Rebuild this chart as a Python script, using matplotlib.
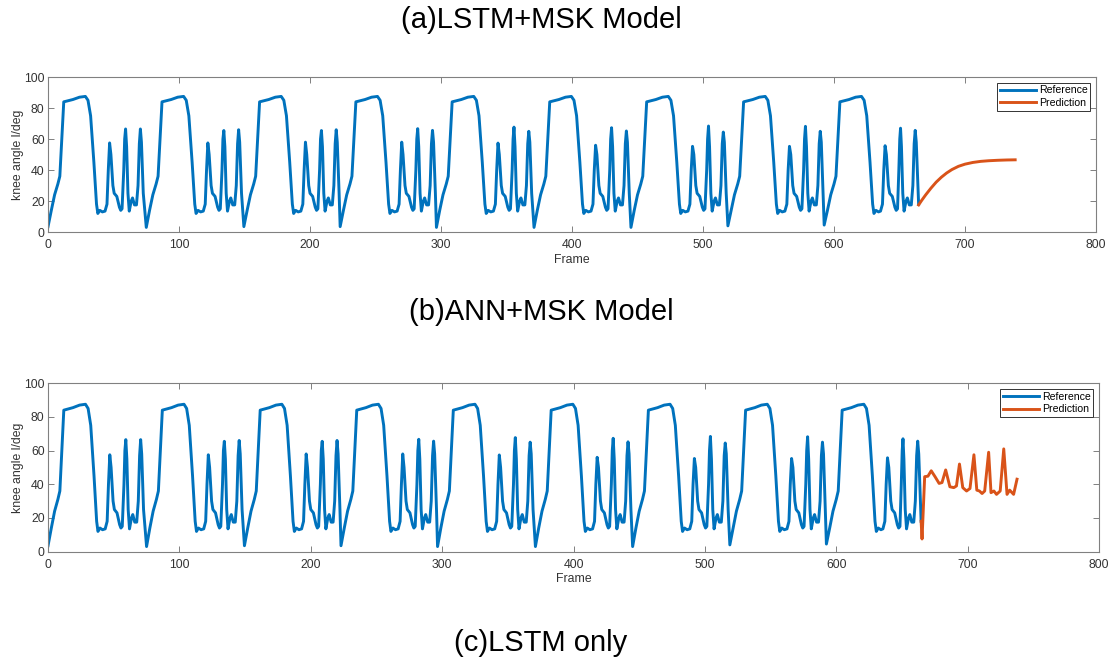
import matplotlib
matplotlib.use("Agg")
import matplotlib.pyplot as plt

plt.rcParams['font.family'] = ['Liberation Sans', 'DejaVu Sans']

# Reference knee angle (same recording in both panels), read cycle by cycle
ref_frames = [
    0, 2.5, 5, 7.5, 9, 10.5, 12, 19, 24, 28.5, 30.5, 32.5, 35, 37, 38, 39.5, 41.5, 43.5, 45, 46, 47, 48, 49.5, 50.5, 52.5, 54.5, 55.5, 56.5, 57.8, 58.5, 59.2, 60, 61, 62, 63.5, 64.5, 66, 67.5, 68.7, 69.7, 70.5, 71.3, 72.7,
    75, 77.5, 80, 82.5, 84, 85.5, 87, 94, 99, 103.5, 105.5, 107.5, 110, 112, 113, 114.5, 116.5, 118.5, 120, 121, 122, 123, 124.5, 125.5, 127.5, 129.5, 130.5, 131.5, 132.8, 133.5, 134.2, 135, 136, 137, 138.5, 139.5, 141, 142.5, 143.7, 144.7, 145.5, 146.3, 147.7,
    149.5, 152, 154.5, 157, 158.5, 160, 161.5, 168.5, 173.5, 178, 180, 182, 184.5, 186.5, 187.5, 189, 191, 193, 194.5, 195.5, 196.5, 197.5, 199, 200, 202, 204, 205, 206, 207.3, 208, 208.7, 209.5, 210.5, 211.5, 213, 214, 215.5, 217, 218.2, 219.2, 220, 220.8, 222.2,
    223, 225.5, 228, 230.5, 232, 233.5, 235, 242, 247, 251.5, 253.5, 255.5, 258, 260, 261, 262.5, 264.5, 266.5, 268, 269, 270, 271, 272.5, 273.5, 275.5, 277.5, 278.5, 279.5, 280.8, 281.5, 282.2, 283, 284, 285, 286.5, 287.5, 289, 290.5, 291.7, 292.7, 293.5, 294.3, 295.7,
    296.5, 299, 301.5, 304, 305.5, 307, 308.5, 315.5, 320.5, 325, 327, 329, 331.5, 333.5, 334.5, 336, 338, 340, 341.5, 342.5, 343.5, 344.5, 346, 347, 349, 351, 352, 353, 354.3, 355, 355.7, 356.5, 357.5, 358.5, 360, 361, 362.5, 364, 365.2, 366.2, 367, 367.8, 369.2,
    371, 373.5, 376, 378.5, 380, 381.5, 383, 390, 395, 399.5, 401.5, 403.5, 406, 408, 409, 410.5, 412.5, 414.5, 416, 417, 418, 419, 420.5, 421.5, 423.5, 425.5, 426.5, 427.5, 428.8, 429.5, 430.2, 431, 432, 433, 434.5, 435.5, 437, 438.5, 439.7, 440.7, 441.5, 442.3, 443.7,
    445, 447.5, 450, 452.5, 454, 455.5, 457, 464, 469, 473.5, 475.5, 477.5, 480, 482, 483, 484.5, 486.5, 488.5, 490, 491, 492, 493, 494.5, 495.5, 497.5, 499.5, 500.5, 501.5, 502.8, 503.5, 504.2, 505, 506, 507, 508.5, 509.5, 511, 512.5, 513.7, 514.7, 515.5, 516.3, 517.7,
    519, 521.5, 524, 526.5, 528, 529.5, 531, 538, 543, 547.5, 549.5, 551.5, 554, 556, 557, 558.5, 560.5, 562.5, 564, 565, 566, 567, 568.5, 569.5, 571.5, 573.5, 574.5, 575.5, 576.8, 577.5, 578.2, 579, 580, 581, 582.5, 583.5, 585, 586.5, 587.7, 588.7, 589.5, 590.3, 591.7,
    592.5, 595, 597.5, 600, 601.5, 603, 604.5, 611.5, 616.5, 621, 623, 625, 627.5, 629.5, 630.5, 632, 634, 635.5, 637, 638, 639, 640, 641.5, 642.5, 644.5, 646.5, 647.5, 648.5, 649.5, 650.2, 650.8, 651.5, 652.5, 653.5, 655, 656, 657.5, 659, 660.2, 661.2, 662, 662.8, 664.6,
]
ref_angle = [
    3.5, 14, 24, 31, 36, 60, 84, 85.5, 87, 87.5, 85, 75, 45, 18, 12, 14, 13, 13.5, 18, 40, 57.5, 50, 30, 25, 23, 16, 14, 15, 40, 60, 66.5, 55, 25, 13.5, 20, 22, 17.5, 17.5, 30, 57, 66.5, 58, 25,
    3, 14, 24, 31, 36, 60, 84, 85.5, 87, 87.5, 85, 75, 45, 18, 12, 14, 13, 13.5, 18, 40, 57.5, 50, 30, 25, 23, 16, 14, 15, 40, 60, 65.5, 55, 25, 13.5, 20, 22, 17.5, 17.5, 30, 57, 66, 58, 25,
    3.5, 14, 24, 31, 36, 60, 84, 85.5, 87, 87.5, 85, 75, 45, 18, 12, 14, 13, 13.5, 18, 40, 58, 50, 30, 25, 23, 16, 14, 15, 40, 60, 65.5, 55, 25, 13.5, 20, 22, 17.5, 17.5, 30, 57, 66, 58, 25,
    3.5, 14, 24, 31, 36, 60, 84, 85.5, 87, 87.5, 85, 75, 45, 18, 12, 14, 13, 13.5, 18, 40, 58, 50, 30, 25, 23, 16, 14, 15, 40, 60, 66.7, 55, 25, 13.5, 20, 22, 17.5, 17.5, 30, 57, 65.6, 58, 25,
    3, 14, 24, 31, 36, 60, 84, 85.5, 87, 87.5, 85, 75, 45, 18, 12, 14, 13, 13.5, 18, 40, 57.4, 50, 30, 25, 23, 16, 14, 15, 40, 60, 67.7, 55, 25, 13.5, 20, 22, 17.5, 17.5, 30, 57, 65, 58, 25,
    3, 14, 24, 31, 36, 60, 84, 85.5, 87, 87.5, 85, 75, 45, 18, 12, 14, 13, 13.5, 18, 40, 56, 50, 30, 25, 23, 16, 14, 15, 40, 60, 67.3, 55, 25, 13.5, 20, 22, 17.5, 17.5, 30, 57, 65.2, 58, 25,
    3, 14, 24, 31, 36, 60, 84, 85.5, 87, 87.5, 85, 75, 45, 18, 12, 14, 13, 13.5, 18, 40, 55.3, 50, 30, 25, 23, 16, 14, 15, 40, 60, 68.4, 55, 25, 13.5, 20, 22, 17.5, 17.5, 30, 57, 64.5, 58, 25,
    4, 14, 24, 31, 36, 60, 84, 85.5, 87, 87.5, 85, 75, 45, 18, 12, 14, 13, 13.5, 18, 40, 55.3, 50, 30, 25, 23, 16, 14, 15, 40, 60, 68.2, 55, 25, 13.5, 20, 22, 17.5, 17.5, 30, 57, 65, 58, 25,
    4.5, 14, 24, 31, 36, 60, 84, 85.5, 87, 87.5, 85, 75, 45, 18, 12, 14, 13, 13.5, 18, 40, 55.7, 50, 30, 25, 23, 16, 14, 15, 40, 60, 67, 55, 25, 13.5, 20, 22, 17.5, 17.5, 30, 57, 65.6, 58, 18,
]

# (a) LSTM+MSK prediction
pred_a_frames = [664.6, 667, 670, 674, 678, 682, 686, 690, 695, 700, 706, 712, 718, 725, 732, 738.3]
pred_a_angle = [17.5, 20.5, 24, 28.3, 32.2, 35.4, 38.1, 40.3, 42.4, 43.8, 44.9, 45.6, 46, 46.3, 46.5, 46.6]

# (b) ANN+MSK prediction
pred_b_frames = [664.6, 665.3, 667.3, 669.8, 672.3, 675.2, 678.3, 680.5, 683.3, 686.5, 689.5, 691.5, 693.8,
                 696.3, 699.2, 701.8, 704.8, 707, 709, 711, 713, 716, 717.8, 720, 722, 724.8, 727.5, 730,
                 732, 735, 737.6]
pred_b_angle = [18, 7.5, 44.5, 44.8, 48, 44.5, 40.5, 41, 48.5, 38.5, 38, 39, 52,
                38, 36, 37.5, 57.5, 36.5, 36, 34.5, 36, 59, 35, 36, 34, 36, 61, 34,
                36.5, 34, 43]

titles = ["(a)LSTM+MSK Model", "(b)ANN+MSK Model", "(c)LSTM only"]

blue = "#0072BD"
orange = "#D95319"

fig = plt.figure(figsize=(11.12, 6.63), dpi=100)
ax1 = fig.add_axes([0.0432, 0.650, 0.9424, 0.2338])
ax2 = fig.add_axes([0.0432, 0.168, 0.9451, 0.254])

for ax, pf, pa in [(ax1, pred_a_frames, pred_a_angle), (ax2, pred_b_frames, pred_b_angle)]:
    ax.plot(ref_frames, ref_angle, color=blue, lw=2.1, label="Reference")
    ax.plot(pf, pa, color=orange, lw=2.1, label="Prediction")
    ax.set_xlim(0, 800)
    ax.set_ylim(0, 100)
    ax.set_xticks(range(0, 801, 100))
    ax.set_yticks(range(0, 101, 20))
    ax.tick_params(direction="in", length=4.5, width=0.7, top=True, right=True,
                   labelsize=8.8, colors="#808080", labelcolor="#333333")
    ax.tick_params(axis="x", pad=5)
    ax.tick_params(axis="y", pad=2.5)
    for s in ax.spines.values():
        s.set_color("#808080")
        s.set_linewidth(0.8)
    ax.set_xlabel("Frame", fontsize=8.8, color="#333333", labelpad=2)
    ax.set_ylabel("knee angle l/deg", fontsize=8.8, color="#333333", labelpad=0)
    leg = ax.legend(loc="upper right", fontsize=7.6, fancybox=False, framealpha=1,
                    edgecolor="#333333", borderaxespad=0.55, handlelength=3.4,
                    handletextpad=0.3, borderpad=0.25, labelspacing=0.25)
    leg.get_frame().set_linewidth(0.7)

fig.text(0.4865, 0.970, titles[0], ha="center", va="center", fontsize=21)
fig.text(0.4865, 0.530, titles[1], ha="center", va="center", fontsize=21)
fig.text(0.4865, 0.030, titles[2], ha="center", va="center", fontsize=21)

fig.savefig("out.png", dpi=100)
